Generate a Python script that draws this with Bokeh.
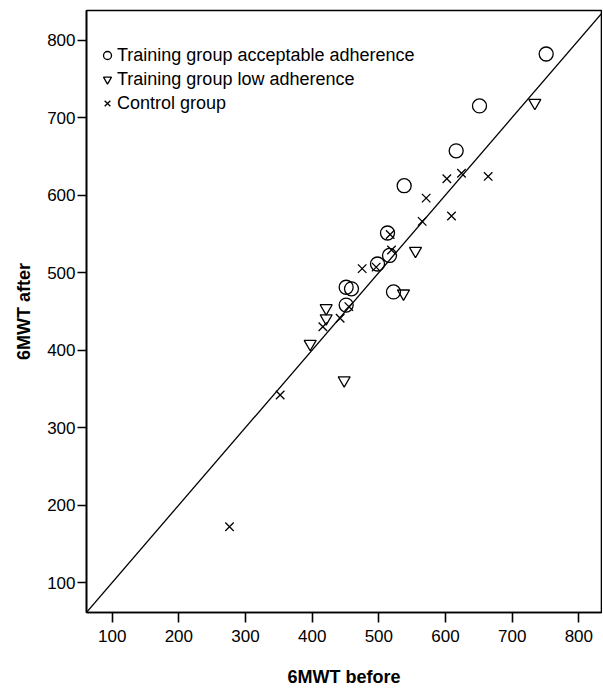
from bokeh.plotting import figure
from bokeh.models import Range1d, FixedTicker, Legend, LegendItem, Slope
from bokeh.embed import file_html
from bokeh.resources import INLINE

# 6MWT (m) before and after
acceptable_before = [751, 651, 616, 538, 513, 516, 498, 451, 459, 522, 451]
acceptable_after = [782, 715, 657, 612, 551, 522, 511, 481, 479, 475, 458]

low_before = [734, 555, 537, 421, 421, 397, 448]
low_after = [719, 528, 473, 454, 441, 408, 361]

control_before = [664, 624, 602, 571, 565, 609, 517, 519, 496, 475, 455, 442, 416, 352, 276]
control_after = [624, 628, 621, 596, 566, 573, 549, 529, 507, 505, 456, 441, 430, 342, 172]

tick_values = [100, 200, 300, 400, 500, 600, 700, 800]
group_labels = ["Training group acceptable adherence",
                "Training group low adherence",
                "Control group"]

FONT = "Liberation Sans"

p = figure(width=602, height=691, output_backend="svg", toolbar_location=None,
           x_range=Range1d(61.5, 834), y_range=Range1d(61.3, 838.1),
           min_border_left=86, min_border_right=1, min_border_top=10,
           min_border_bottom=79)

p.xgrid.visible = False
p.ygrid.visible = False
p.outline_line_color = "black"
p.outline_line_width = 1.6
p.background_fill_color = "white"
p.border_fill_color = "white"

for ax in (p.xaxis[0], p.yaxis[0]):
    ax.ticker = FixedTicker(ticks=tick_values)
    ax.minor_tick_line_color = None
    ax.major_tick_in = 0
    ax.major_tick_line_color = "black"
    ax.major_tick_line_width = 1.6
    ax.axis_line_color = "black"
    ax.axis_line_width = 1.6
    ax.major_label_text_font = FONT
    ax.major_label_text_font_size = "17px"
    ax.major_label_text_color = "black"
    ax.axis_label_text_font = FONT
    ax.axis_label_text_font_size = "18px"
    ax.axis_label_text_font_style = "bold"
    ax.axis_label_text_color = "black"

p.xaxis.axis_label = "6MWT before"
p.xaxis.major_tick_out = 10
p.xaxis.major_label_standoff = 7
p.xaxis.axis_label_standoff = 22

p.yaxis.axis_label = "6MWT after"
p.yaxis.major_tick_out = 9
p.yaxis.major_label_standoff = 2
p.yaxis.axis_label_standoff = 10

p.add_layout(Slope(gradient=1, y_intercept=0, line_color="black", line_width=1.3))

r1 = p.scatter(acceptable_before, acceptable_after, marker="circle", size=14,
               fill_color=None, line_color="black", line_width=1.3)
r2 = p.scatter(low_before, low_after, marker="inverted_triangle", size=12,
               fill_color=None, line_color="black", line_width=1.3)
r3 = p.scatter(control_before, control_after, marker="x", size=12,
               line_color="black", line_width=1.3)

legend = Legend(items=[LegendItem(label=group_labels[0], renderers=[r1]),
                       LegendItem(label=group_labels[1], renderers=[r2]),
                       LegendItem(label=group_labels[2], renderers=[r3])],
                location=(11, 497), padding=0, margin=0, spacing=0,
                glyph_width=20, glyph_height=24, label_standoff=0,
                label_text_font=FONT, label_text_font_size="18px",
                label_text_color="black",
                border_line_alpha=0, background_fill_alpha=0)
p.add_layout(legend)

open("out.html", "w").write(file_html(p, INLINE))
